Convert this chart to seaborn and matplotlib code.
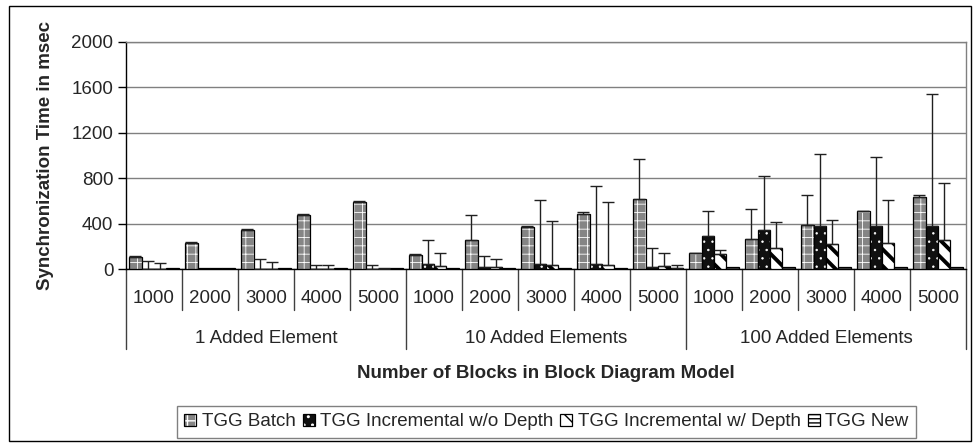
import matplotlib
matplotlib.use('Agg')
import matplotlib.pyplot as plt
import matplotlib.transforms as mtransforms
from matplotlib.patches import Patch, Rectangle
import numpy as np
import pandas as pd
import seaborn as sns

# values (msec); errors are upper-only
groups = ['1 Added Element', '10 Added Elements', '100 Added Elements']
blocks = ['1000', '2000', '3000', '4000', '5000']
series = ['TGG Batch', 'TGG Incremental w/o Depth',
          'TGG Incremental w/ Depth', 'TGG New']

batch = [108, 233, 347, 473, 590, 120, 257, 368, 482, 619, 140, 266, 388, 509, 634]
batch_err = [5, 8, 5, 8, 5, 8, 222, 9, 23, 351, 3, 260, 266, 6, 20]
incr_nodepth = [3, 8, 3, 3, 3, 47, 18, 44, 44, 15, 289, 347, 380, 380, 380]
incr_nodepth_err = [64, 0, 85, 35, 32, 207, 96, 564, 689, 169, 225, 474, 634, 605, 1160]
incr_depth = [3, 8, 3, 3, 3, 30, 20, 35, 35, 25, 131, 187, 219, 231, 257]
incr_depth_err = [46, 0, 58, 35, 2, 107, 64, 391, 552, 112, 32, 225, 216, 377, 497]
tgg_new = [10, 5, 12, 10, 10, 10, 10, 10, 10, 10, 20, 20, 20, 20, 20]
tgg_new_err = [0, 0, 0, 0, 0, 0, 0, 0, 0, 22, 0, 0, 0, 0, 0]

values = [batch, incr_nodepth, incr_depth, tgg_new]
errors = [batch_err, incr_nodepth_err, incr_depth_err, tgg_new_err]

# looks of each series: face, hatch, hatch colour, hatch width
styles = [
    ('#858585', '++', 'white', 0.6),
    ('#101010', '..', 'white', 0.5),
    ('white', '\\\\', 'black', 2.8),
    ('white', '----', 'black', 0.7),
]

slots = [g + '|' + b for g in groups for b in blocks]
rows = []
for s, vals in zip(series, values):
    for slot, v in zip(slots, vals):
        rows.append({'slot': slot, 'series': s, 'value': v})
df = pd.DataFrame(rows)

sns.set_style('white')
plt.rcParams['font.family'] = ['Liberation Sans', 'DejaVu Sans']
FS = 13.5


def style_patch(p, face, hatch, hcolor, hlw):
    p.set_facecolor(face)
    p.set_edgecolor('black')
    p.set_linewidth(0.9)
    p.set_hatch(hatch)
    if hasattr(p, 'set_hatchcolor'):
        p.set_hatchcolor(hcolor)
    else:
        p._hatch_color = matplotlib.colors.to_rgba(hcolor)
    if hasattr(p, 'set_hatch_linewidth'):
        p.set_hatch_linewidth(hlw)
    else:
        p._hatch_linewidth = hlw


fig = plt.figure(figsize=(9.74, 4.46), dpi=100)
ax = fig.add_axes([126 / 974, 1 - 269 / 446, 840 / 974, 227 / 446])

sns.barplot(data=df, x='slot', y='value', hue='series', order=slots,
            hue_order=series, palette=[st[0] for st in styles], width=0.89,
            errorbar=None, saturation=1, legend=False, ax=ax, zorder=3)

for cont, st, err in zip(ax.containers, styles, errors):
    xs, ys, es = [], [], []
    for p, e in zip(cont.patches, err):
        style_patch(p, *st)
        if e > 0:
            xs.append(p.get_x() + p.get_width() / 2)
            ys.append(p.get_height())
            es.append(e)
    if xs:
        ax.errorbar(xs, ys, yerr=[np.zeros(len(es)), es], fmt='none',
                    ecolor='#202020', elinewidth=1, capsize=4, capthick=1,
                    zorder=4)

ax.set_xlim(-0.5, len(slots) - 0.5)
ax.set_ylim(0, 2000)
ax.set_yticks(range(0, 2001, 400))
ax.yaxis.grid(True, color='#808080', lw=1)
ax.set_axisbelow(True)
ax.set_xlabel('')
ax.set_ylabel('')
ax.set_xticks([])
ax.tick_params(axis='y', labelsize=FS, left=True, length=6, width=1,
               color='black', pad=3)
for side in ['top', 'right']:
    ax.spines[side].set_color('#808080')
    ax.spines[side].set_linewidth(1)
for side in ['left', 'bottom']:
    ax.spines[side].set_color('black')
    ax.spines[side].set_linewidth(1)

# two level category axis
trans = mtransforms.blended_transform_factory(ax.transData, ax.transAxes)
for i in range(len(slots) + 1):
    x = i - 0.5
    low = -0.352 if i % 5 == 0 else -0.18
    ax.plot([x, x], [0, low], transform=trans, color='#404040', lw=1,
            clip_on=False)
for i, slot in enumerate(slots):
    ax.text(i, -0.132, slot.split('|')[1], transform=trans, ha='center',
            va='center', fontsize=FS)
for j, g in enumerate(groups):
    ax.text(j * 5 + 2, -0.308, g, transform=trans, ha='center', va='center',
            fontsize=FS)

fig.text(46 / 974, 1 - 155 / 446, 'Synchronization Time in msec',
         rotation=90, ha='center', va='center', fontsize=FS,
         fontweight='bold')
fig.text(546 / 974, 1 - 373 / 446, 'Number of Blocks in Block Diagram Model',
         ha='center', va='center', fontsize=FS, fontweight='bold')

handles = []
for s, st in zip(series, styles):
    h = Patch(label=s)
    style_patch(h, *st)
    handles.append(h)
leg = fig.legend(handles=handles, loc='center', ncol=4,
                 bbox_to_anchor=(546.5 / 974, 1 - 422 / 446), fontsize=FS,
                 frameon=True, fancybox=False, edgecolor='#606060',
                 handlelength=0.65, handleheight=0.65, handletextpad=0.3,
                 columnspacing=0.35, borderpad=0.4, borderaxespad=0)
leg.get_frame().set_linewidth(1)

# outer chart border
fig.patches.append(Rectangle((9 / 974, 1 - 441 / 446), 962 / 974, 435 / 446,
                             transform=fig.transFigure, fill=False,
                             edgecolor='black', lw=1))

fig.savefig('out.png', dpi=100)
